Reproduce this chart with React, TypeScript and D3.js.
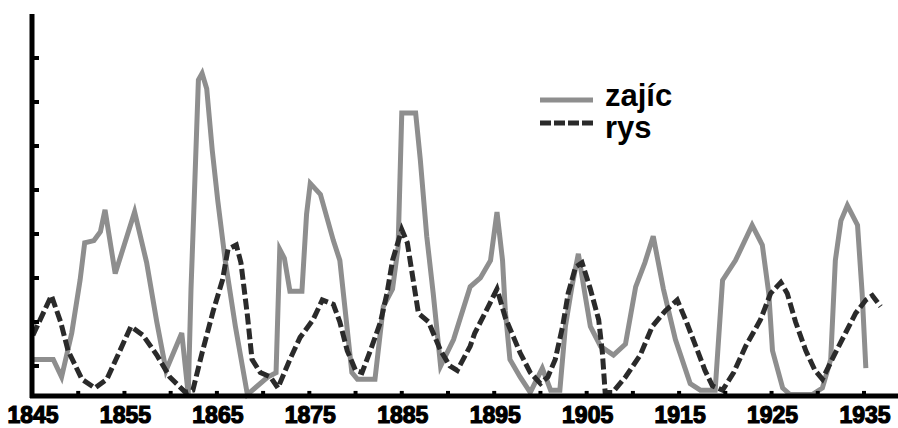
import * as d3 from "d3";

const WIDTH = 898;
const HEIGHT = 428;

// hare (zajíc)
const hareYears = [
  1845, 1847.3, 1848.2, 1849.3, 1850.2, 1850.7, 1851.7, 1852.4, 1852.9, 1854.0,
  1856.1, 1857.4, 1858.5, 1859.5, 1861.2, 1861.9, 1862.2, 1862.5, 1863.0, 1863.4,
  1863.9, 1864.5, 1865.1, 1865.9, 1867.0, 1868.3, 1870.5, 1871.4, 1871.8, 1872.3,
  1872.9, 1874.2, 1874.7, 1875.1, 1876.2, 1877.6, 1878.3, 1879.6, 1880.2, 1882.1,
  1883.0, 1884.0, 1884.6, 1885.0, 1886.5, 1887.0, 1887.7, 1888.4, 1889.2, 1890.6,
  1892.4, 1893.5, 1894.6, 1895.3, 1895.9, 1896.2, 1896.7, 1897.8, 1898.9, 1900.2,
  1901.1, 1902.1, 1902.7, 1903.4, 1904.1, 1904.8, 1905.4, 1906.5, 1907.9, 1909.2,
  1910.3, 1911.3, 1912.2, 1913.3, 1914.6, 1916.2, 1917.3, 1918.9, 1919.7, 1921.1,
  1922.9, 1924.0, 1924.7, 1925.1, 1926.2, 1927.0, 1929.4, 1930.5, 1931.4, 1931.9,
  1932.5, 1933.2, 1934.3, 1934.8, 1935.2,
];
const hareValues = [
  23, 23, 15, 35, 59, 76, 77, 81, 91, 62,
  90, 67, 40, 18, 35, 7, 55, 90, 150, 153,
  146, 118, 95, 68, 38, 7, 15, 17, 73, 69,
  54, 54, 89, 103, 98, 77, 68, 17, 14, 14,
  47, 55, 74, 135, 135, 114, 79, 53, 20, 32,
  56, 60, 68, 90, 68, 45, 23, 15, 8, 19,
  9, 9, 38, 56, 71, 53, 38, 29, 25, 30,
  56, 67, 79, 55, 32, 12, 9, 9, 59, 68,
  84, 75, 53, 27, 10, 7, 7, 10, 23, 68,
  86, 93, 84, 53, 19,
];

// lynx (rys)
const lynxYears = [
  1845.1, 1847.1, 1848.1, 1848.9, 1850.4, 1851.8, 1853.1, 1854.3, 1855.7, 1857.0,
  1858.5, 1859.9, 1861.6, 1862.4, 1863.4, 1864.6, 1865.6, 1866.2, 1867.1, 1867.6,
  1868.3, 1868.8, 1869.7, 1870.8, 1871.6, 1872.9, 1874.0, 1875.4, 1876.4, 1877.6,
  1878.3, 1879.1, 1880.0, 1880.7, 1881.6, 1882.7, 1883.4, 1884.0, 1885.0, 1885.6,
  1886.2, 1886.8, 1887.9, 1889.2, 1890.2, 1891.0, 1892.4, 1892.9, 1894.0, 1895.3,
  1896.2, 1897.1, 1897.8, 1898.9, 1900.0, 1900.8, 1901.6, 1902.4, 1903.0, 1903.8,
  1904.5, 1905.4, 1906.3, 1906.7, 1907.0, 1907.8, 1909.2, 1910.8, 1912.1, 1913.5,
  1914.8, 1915.7, 1916.8, 1917.8, 1918.6, 1919.7, 1920.9, 1922.2, 1923.8, 1924.9,
  1926.0, 1926.7, 1927.6, 1928.7, 1929.7, 1930.5, 1931.9, 1933.0, 1934.1, 1935.2,
  1935.9, 1936.8,
];
const lynxValues = [
  34, 52, 40, 27, 14, 10, 14, 25, 38, 34,
  25, 15, 8, 9, 26, 45, 59, 73, 75, 67,
  43, 23, 17, 15, 10, 23, 33, 41, 50, 48,
  40, 27, 18, 17, 27, 40, 53, 68, 82, 76,
  60, 44, 40, 27, 20, 18, 29, 35, 44, 55,
  42, 33, 26, 17, 12, 15, 23, 38, 53, 65,
  67, 55, 41, 26, 8, 8, 15, 25, 38, 45,
  50, 41, 29, 18, 11, 9, 17, 29, 41, 53,
  58, 53, 40, 27, 18, 14, 26, 35, 44, 50,
  52, 47,
];

const xTickLabels = [1845, 1855, 1865, 1875, 1885, 1895, 1905, 1915, 1925, 1935];
const xMinorTicks = [1850, 1855, 1860, 1865, 1870, 1875, 1880, 1885, 1890, 1895, 1900, 1905, 1910, 1915, 1920, 1925, 1930, 1935];
const yTicks = [20, 40, 60, 80, 100, 120, 140, 160];
const legendItems = ["zajíc", "rys"];

const HARE_COLOR = "#8e8e8e";
const LYNX_COLOR = "#2a2a2a";
const FONT = "'Liberation Sans', Arial, sans-serif";

export default function App() {
  const xScale = d3.scaleLinear().domain([1845, 1935]).range([32, 864]);
  const yScale = d3.scaleLinear().domain([0, 180]).range([410, 14]);
  const baseY = yScale(6.4);

  const line = d3
    .line<[number, number]>()
    .x((d) => xScale(d[0]))
    .y((d) => yScale(d[1]));

  const harePath = line(hareYears.map((y, i) => [y, hareValues[i]]));
  const lynxPath = line(lynxYears.map((y, i) => [y, lynxValues[i]]));

  return (
    <svg
      width={WIDTH}
      height={HEIGHT}
      style={{ position: "absolute", left: 0, top: 0, background: "#fff" }}
    >
      {/* series */}
      <path d={harePath ?? ""} fill="none" stroke={HARE_COLOR} strokeWidth={5} strokeLinejoin="miter" />
      <path
        d={lynxPath ?? ""}
        fill="none"
        stroke={LYNX_COLOR}
        strokeWidth={5}
        strokeDasharray="11 4"
      />

      {/* Y axis */}
      <line x1={xScale(1845)} x2={xScale(1845)} y1={yScale(180)} y2={baseY + 2} stroke="#000" strokeWidth={5} />
      {yTicks.map((t) => (
        <line key={t} x1={xScale(1845)} x2={xScale(1845) + 7} y1={yScale(t)} y2={yScale(t)} stroke="#000" strokeWidth={4} />
      ))}

      {/* X axis */}
      <line x1={xScale(1845) - 2} x2={WIDTH} y1={baseY} y2={baseY} stroke="#000" strokeWidth={5} />
      {xMinorTicks.map((t) => (
        <line key={t} x1={xScale(t)} x2={xScale(t)} y1={baseY} y2={baseY - 5} stroke="#000" strokeWidth={4} />
      ))}
      {xTickLabels.map((t) => (
        <text
          key={t}
          x={xScale(t) + 1}
          y={423}
          textAnchor="middle"
          fontFamily={FONT}
          fontWeight="bold"
          fontSize={23}
          stroke="#000"
          strokeWidth={1.2}
          fill="#000"
        >
          {t}
        </text>
      ))}

      {/* legend */}
      {legendItems.map((name, i) => (
        <g key={name} transform={`translate(540,${100 + i * 23})`}>
          <line
            x1={0}
            x2={53}
            y1={0}
            y2={0}
            stroke={i === 0 ? HARE_COLOR : LYNX_COLOR}
            strokeWidth={5}
            strokeDasharray={i === 0 ? undefined : "11 3"}
          />
        </g>
      ))}
      {legendItems.map((name, i) => (
        <text
          key={name}
          x={605}
          y={106 + i * 32}
          fontFamily={FONT}
          fontWeight="bold"
          fontSize={31}
          fill="#000"
        >
          {name}
        </text>
      ))}
    </svg>
  );
}
